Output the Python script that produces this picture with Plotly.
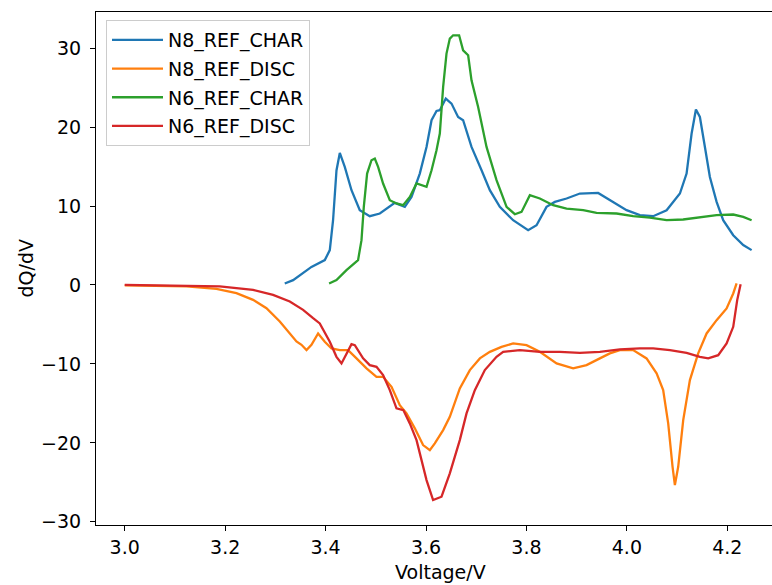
import plotly.graph_objects as go

# ---- data ----
n8_char_v = [3.3187, 3.3353, 3.3719, 3.3984, 3.4084, 3.4149, 3.4217, 3.4283, 3.4382, 3.4516,
             3.4681, 3.4880, 3.5080, 3.5279, 3.5378, 3.5578, 3.5711, 3.5876, 3.6010, 3.6110,
             3.6209, 3.6275, 3.6394, 3.6508, 3.6639, 3.6739, 3.6906, 3.7106, 3.7271, 3.7470,
             3.7735, 3.8034, 3.8201, 3.8400, 3.8566, 3.8799, 3.9064, 3.9428, 3.9727, 3.9994,
             4.0259, 4.0524, 4.0791, 4.1056, 4.1189, 4.1289, 4.1375, 4.1454, 4.1554, 4.1653,
             4.1787, 4.1918, 4.2118, 4.2317, 4.2484]
n8_char_q = [0.19, 0.61, 2.29, 3.15, 4.41, 8.20, 14.5, 16.72, 14.95, 12.0,
             9.47, 8.71, 9.05, 9.89, 10.39, 9.89, 11.15, 14.11, 17.48, 20.86,
             22.04, 22.13, 23.61, 22.97, 21.28, 20.86, 17.48, 14.53, 12.0, 9.89,
             8.20, 6.94, 7.57, 9.89, 10.52, 10.95, 11.58, 11.66, 10.52, 9.47,
             8.84, 8.71, 9.47, 11.58, 14.11, 19.18, 22.22, 21.28, 17.48, 13.68,
             10.52, 8.20, 6.30, 5.05, 4.41]

n8_disc_v = [3.0, 3.1229, 3.1827, 3.2225, 3.2556, 3.2823, 3.3088, 3.3287, 3.3420, 3.3520,
             3.3620, 3.3719, 3.3851, 3.3984, 3.4118, 3.4283, 3.4448, 3.4616, 3.4815, 3.5014,
             3.5145, 3.5313, 3.5478, 3.5612, 3.5777, 3.5942, 3.6076, 3.6175, 3.6341, 3.6474,
             3.6608, 3.6673, 3.6873, 3.7072, 3.7271, 3.7504, 3.7735, 3.8002, 3.8267, 3.8600,
             3.8930, 3.9197, 3.9462, 3.9661, 3.9861, 4.0125, 4.0392, 4.0592, 4.0723, 4.0823,
             4.0910, 4.0956, 4.1022, 4.1122, 4.1255, 4.1420, 4.1588, 4.1787, 4.1986, 4.2118,
             4.2185]
n8_disc_q = [-0.06, -0.19, -0.49, -1.04, -1.89, -2.94, -4.62, -6.10, -7.15, -7.58,
             -8.25, -7.58, -6.14, -7.20, -8.04, -8.25, -8.25, -9.30, -10.57, -11.63,
             -11.63, -12.90, -15.22, -16.27, -18.16, -20.28, -20.91, -20.06, -18.38, -16.70,
             -14.16, -13.10, -10.78, -9.30, -8.47, -7.84, -7.41, -7.62, -8.47, -9.94,
             -10.57, -10.15, -9.30, -8.67, -8.25, -8.25, -9.30, -11.20, -13.32, -17.53,
             -23.03, -25.34, -23.03, -17.11, -12.05, -8.67, -6.14, -4.46, -2.97, -1.08,
             0.19]

n6_char_v = [3.4070, 3.4217, 3.4416, 3.4647, 3.4715, 3.4761, 3.4827, 3.4914, 3.4980, 3.5046,
             3.5145, 3.5279, 3.5412, 3.5544, 3.5677, 3.5811, 3.6010, 3.6110, 3.6209, 3.6275,
             3.6341, 3.6408, 3.6474, 3.6540, 3.6659, 3.6739, 3.6839, 3.6906, 3.7038, 3.7205,
             3.7404, 3.7604, 3.7769, 3.7902, 3.8068, 3.8267, 3.8532, 3.8799, 3.9130, 3.9396,
             3.9795, 4.0125, 4.0458, 4.0791, 4.1121, 4.1454, 4.1787, 4.2118, 4.2317, 4.2484]
n6_char_q = [0.19, 0.61, 1.87, 3.15, 5.67, 9.89, 14.11, 15.80, 16.01, 14.95,
             12.85, 10.73, 10.32, 10.10, 11.15, 12.85, 12.42, 14.53, 17.06, 19.18,
             25.08, 29.30, 31.20, 31.62, 31.62, 29.72, 29.09, 25.92, 22.54, 17.48,
             13.27, 9.89, 8.96, 9.25, 11.37, 10.95, 10.10, 9.68, 9.47, 9.13,
             9.05, 8.71, 8.54, 8.20, 8.29, 8.54, 8.84, 8.92, 8.62, 8.20]

n6_disc_v = [3.0, 3.1892, 3.2556, 3.2954, 3.3287, 3.3552, 3.3751, 3.3884, 3.4084, 3.4217,
             3.4317, 3.4416, 3.4516, 3.4582, 3.4747, 3.4880, 3.5014, 3.5145, 3.5279, 3.5412,
             3.5548, 3.5677, 3.5811, 3.6010, 3.6141, 3.6309, 3.6474, 3.6673, 3.6807, 3.6972,
             3.7171, 3.7404, 3.7536, 3.7869, 3.8267, 3.8665, 3.9064, 3.9462, 3.9861, 4.0259,
             4.0524, 4.0857, 4.1189, 4.1454, 4.1620, 4.1819, 4.1986, 4.2118, 4.2197, 4.2265]
n6_disc_q = [0.01, -0.19, -0.62, -1.25, -2.09, -3.15, -4.20, -4.87, -7.20, -9.10,
             -9.94, -8.67, -7.49, -7.62, -9.30, -10.15, -10.37, -11.42, -13.32, -15.63,
             -15.85, -17.53, -19.65, -24.71, -27.24, -26.82, -23.86, -19.65, -16.27, -13.32,
             -10.78, -9.10, -8.47, -8.25, -8.47, -8.47, -8.59, -8.47, -8.16, -8.04,
             -8.04, -8.25, -8.59, -9.10, -9.30, -8.89, -7.41, -5.30, -1.92, 0.10]

series_names = ["N8_REF_CHAR", "N8_REF_DISC", "N6_REF_CHAR", "N6_REF_DISC"]
series_x = [n8_char_v, n8_disc_v, n6_char_v, n6_disc_v]
series_y = [n8_char_q, n8_disc_q, n6_char_q, n6_disc_q]
colors = ["#1f77b4", "#ff7f0e", "#2ca02c", "#d62728"]

x_ticks = [3.0, 3.2, 3.4, 3.6, 3.8, 4.0, 4.2]
y_ticks = [-30, -20, -10, 0, 10, 20, 30]

FONT = "DejaVu Sans"
FS = 19

fig = go.Figure()
for name, xs, ys, c in zip(series_names, series_x, series_y, colors):
    fig.add_trace(go.Scatter(x=xs, y=ys, mode="lines", name=name, legendgroup=name,
                             line=dict(color=c, width=2.3)))

W, H = 772, 585
L, R, T, B = 96, 0, 12, 60
pw, ph = W - L - R, H - T - B

fig.update_layout(
    width=W, height=H,
    margin=dict(l=L, r=R, t=T, b=B, pad=0),
    paper_bgcolor="white", plot_bgcolor="white",
    font=dict(family=FONT, size=FS, color="black"),
    showlegend=True,
    legend=dict(x=(106 - L) / pw, y=(H - B - 20) / ph, xanchor="left", yanchor="top",
                bgcolor="rgba(255,255,255,0.8)", bordercolor="#cccccc", borderwidth=1,
                font=dict(family=FONT, size=FS, color="black"),
                itemwidth=51, tracegroupgap=1),
    xaxis=dict(range=[2.9428, 4.289], tickvals=x_ticks, ticktext=[f"{v:.1f}" for v in x_ticks],
               showgrid=False, zeroline=False, showline=True, linecolor="black", linewidth=1,
               mirror=True, ticks="outside", ticklen=5, tickwidth=1, tickcolor="black",
               tickfont=dict(family=FONT, size=FS, color="black")),
    yaxis=dict(range=[-30.4, 34.57], tickvals=y_ticks,
               showgrid=False, zeroline=False, showline=True, linecolor="black", linewidth=1,
               ticks="outside", ticklen=5, tickwidth=1, tickcolor="black", ticklabelstandoff=5,
               tickfont=dict(family=FONT, size=FS, color="black")),
    annotations=[
        dict(text="Voltage/V", xref="paper", yref="paper", x=(440 - L) / pw, y=(H - B - 572) / ph,
             xanchor="center", yanchor="middle", showarrow=False,
             font=dict(family=FONT, size=FS, color="black")),
        dict(text="dQ/dV", xref="paper", yref="paper", x=(25 - L) / pw, y=0.5,
             xanchor="center", yanchor="middle", showarrow=False, textangle=-90,
             font=dict(family=FONT, size=FS, color="black")),
    ],
)

fig.write_html("out.html")
